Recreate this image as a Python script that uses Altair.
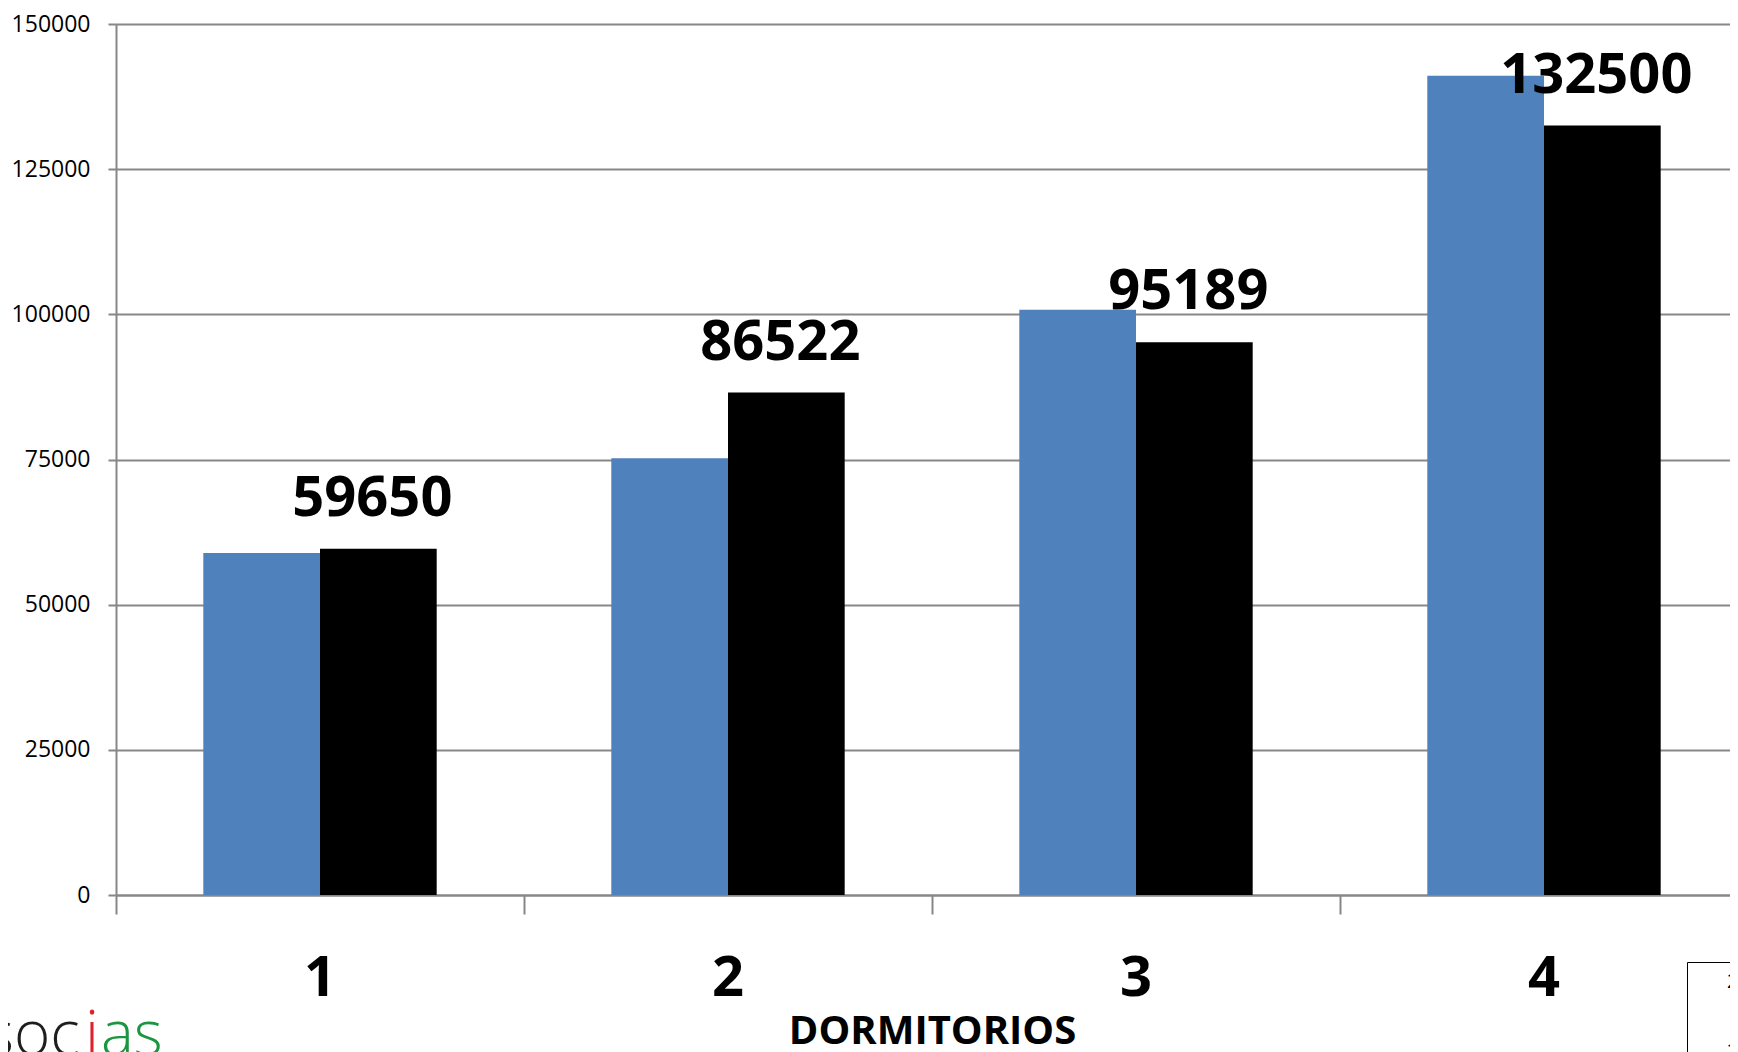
import altair as alt
import pandas as pd

categories = ["1", "2", "3", "4"]
series = ["2012", "2013"]
values_blue = [58900, 75200, 100800, 141100]
values_black = [59650, 86522, 95189, 132500]
y_ticks = [0, 25000, 50000, 75000, 100000, 125000, 150000]
x_title = "DORMITORIOS"
colors = ["#4F81BD", "#000000"]

rows = []
for c, a, b in zip(categories, values_blue, values_black):
    rows.append({"dorm": c, "serie": series[0], "valor": a})
    rows.append({"dorm": c, "serie": series[1], "valor": b})
df = pd.DataFrame(rows)
labels_df = pd.DataFrame({"dorm": categories, "serie": [series[1]] * 4, "valor": values_black})

GRAY = "#878787"
FONT = "Open Sans"
P_INNER = 0.428
P_OUTER = P_INNER / 2

x_scale = alt.Scale(domain=categories, range=[0, 1632], paddingInner=P_INNER, paddingOuter=P_OUTER)
xoff_scale = alt.Scale(domain=series, paddingInner=0, paddingOuter=0)
y_scale = alt.Scale(domain=[0, 150000], nice=False)

x_axis = alt.Axis(
    bandPosition=-(P_INNER / 2) / (1 - P_INNER), tickSize=19, tickWidth=2, tickColor=GRAY,
    domainColor=GRAY, domainWidth=2, grid=False,
    labelFont=FONT, labelFontSize=56, labelFontWeight="bold", labelColor="black",
    labelPadding=37, labelAngle=0,
    title=x_title, titleFont=FONT, titleFontSize=40, titleFontWeight="bold",
    titleColor="black", titlePadding=5,
)
y_axis = alt.Axis(
    values=y_ticks, grid=True, gridColor=GRAY, gridWidth=2,
    domainColor=GRAY, domainWidth=2, tickColor=GRAY, tickWidth=2, tickSize=8,
    labelFont=FONT, labelFontSize=23, labelColor="black", labelPadding=18,
    format="d", title=None,
)

bars = alt.Chart(df).mark_bar().encode(
    x=alt.X("dorm:N", scale=x_scale, axis=x_axis, sort=categories),
    xOffset=alt.XOffset("serie:N", scale=xoff_scale, sort=series),
    y=alt.Y("valor:Q", scale=y_scale, axis=y_axis),
    color=alt.Color(
        "serie:N",
        scale=alt.Scale(domain=series, range=colors),
        legend=alt.Legend(
            orient="none", legendX=1571, legendY=938, title=None,
            symbolSize=0, labelOffset=10, padding=10, strokeColor="black",
            labelFont=FONT, labelFontSize=20, labelColor="black", rowPadding=50,
        ),
    ),
)

labels = alt.Chart(labels_df).mark_text(
    font=FONT, fontSize=56, fontWeight="bold", color="black",
    baseline="alphabetic", dy=-33, dx=-6,
).encode(
    x=alt.X("dorm:N", scale=x_scale, sort=categories),
    xOffset=alt.XOffset("serie:N", scale=xoff_scale, sort=series),
    y=alt.Y("valor:Q", scale=y_scale),
    text=alt.Text("valor:Q", format="d"),
)

LOGO_SIZE = 62
logo1 = alt.Chart(pd.DataFrame({"t": ["soc"]})).mark_text(
    font=FONT, fontSize=LOGO_SIZE, fontWeight=300, color="#1e1e1e", align="left", baseline="alphabetic"
).encode(x=alt.value(-131), y=alt.value(1031), text="t:N")
logo2 = alt.Chart(pd.DataFrame({"t": ["i"]})).mark_text(
    font=FONT, fontSize=LOGO_SIZE, fontWeight=300, color="#e0202a", align="left", baseline="alphabetic"
).encode(x=alt.value(-31), y=alt.value(1031), text="t:N")
logo3 = alt.Chart(pd.DataFrame({"t": ["as"]})).mark_text(
    font=FONT, fontSize=LOGO_SIZE, fontWeight=300, color="#1a9640", align="left", baseline="alphabetic"
).encode(x=alt.value(-15), y=alt.value(1031), text="t:N")

chart = alt.layer(bars, labels, logo1, logo2, logo3).properties(
    width=1614, height=871,
    padding={"left": 108, "top": 16, "right": 0, "bottom": 157},
    autosize=alt.AutoSizeParams(type="none"),
).configure_view(stroke=None).configure(background="white")

chart.save("out.html", embed_options={"renderer": "svg", "actions": False})
